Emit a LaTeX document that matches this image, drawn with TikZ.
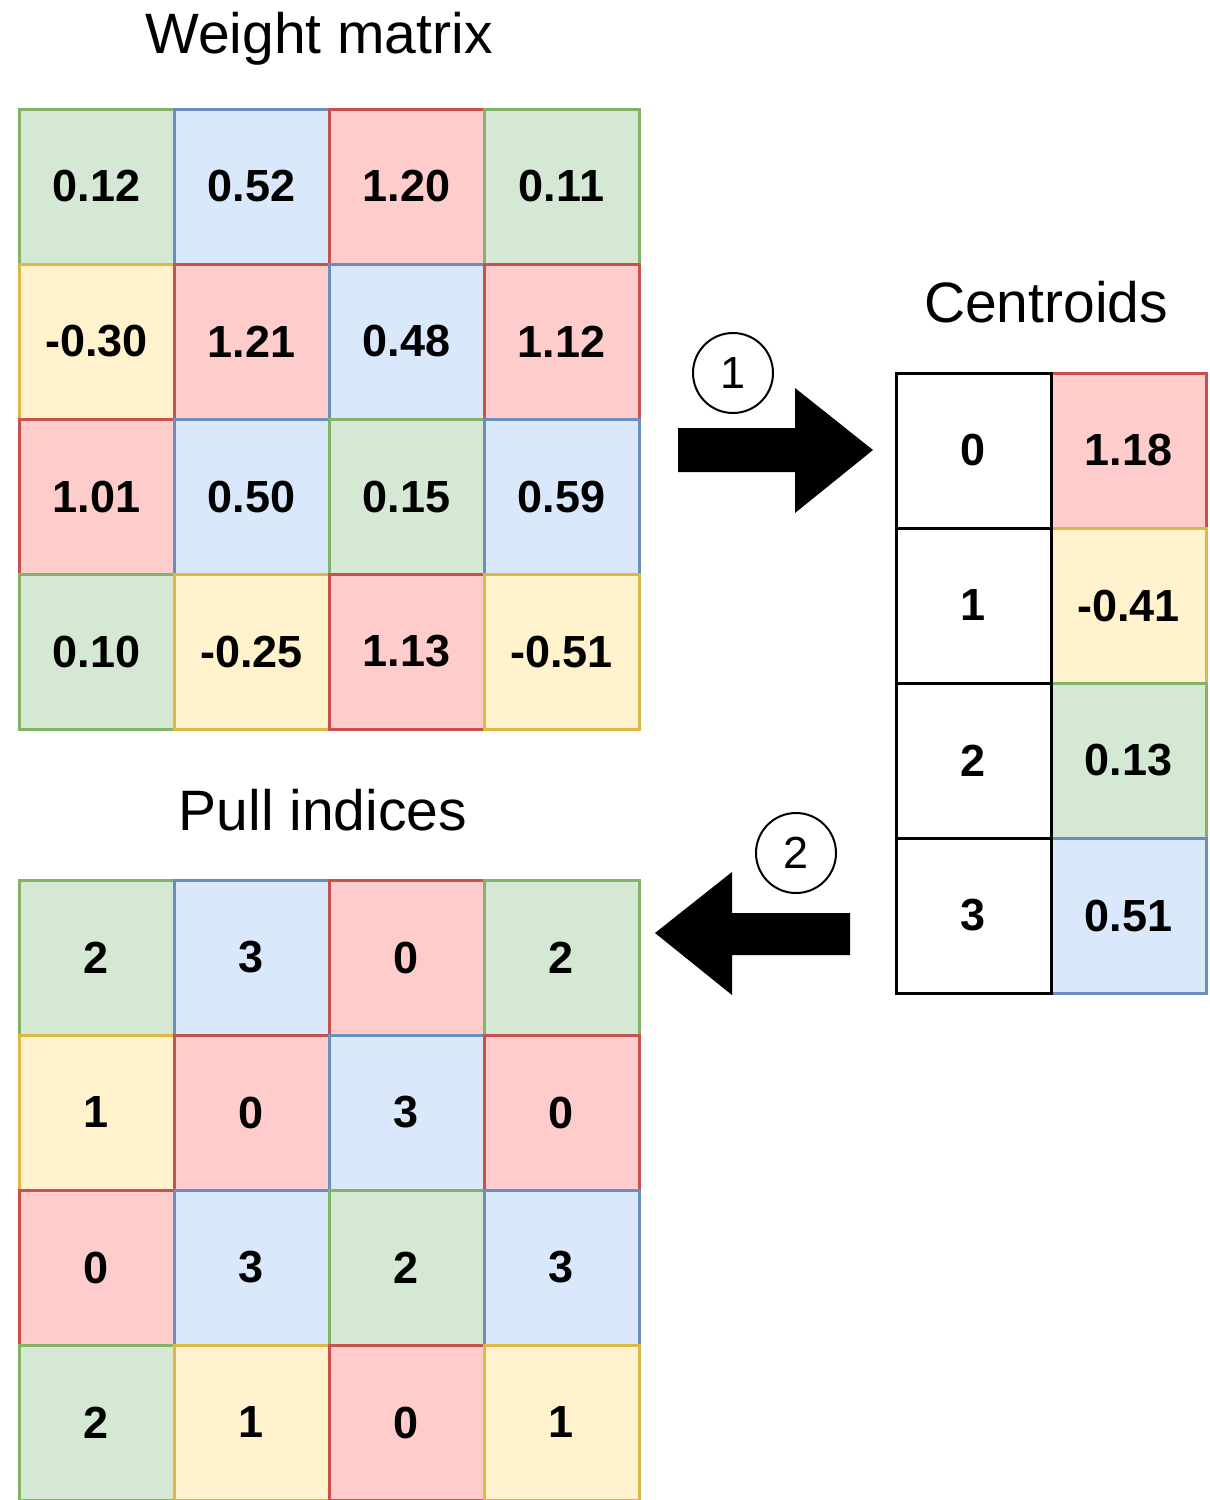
\documentclass[tikz,border=0pt]{standalone}
\usepackage{fontspec}
\setmainfont{Liberation Sans}
\definecolor{gF}{HTML}{D5E8D4}\definecolor{gD}{HTML}{82B366}
\definecolor{bF}{HTML}{DAE8FC}\definecolor{bD}{HTML}{6C8EBF}
\definecolor{rF}{HTML}{FFCCCC}\definecolor{rD}{HTML}{C8504E}
\definecolor{yF}{HTML}{FFF2CC}\definecolor{yD}{HTML}{DDB845}
\tikzset{
  cell/.style={draw, line width=3pt, minimum width=155pt, minimum height=155pt, inner sep=0pt,
    font=\fontsize{45}{50}\selectfont\bfseries},
  title/.style={anchor=base, font=\fontsize{57}{62}\selectfont},
  badge/.style={circle, draw, line width=2pt, minimum size=80pt, inner sep=0pt,
    font=\fontsize{45}{50}\selectfont},
  blockarrow/.style={fill=black, draw=none}
}
\begin{document}
\begin{tikzpicture}[x=1pt,y=-1pt]
\useasboundingbox (0,0) rectangle (1210,1500);
\fill[white] (0,0) rectangle (1210,1500);
% titles
\node[title] (t1) at (319,53) {Weight matrix};
\node[title] (t2) at (1046,322) {Centroids};
\node[title] (t3) at (323,830) {Pull indices};
% weight matrix
\foreach \i/\j/\c/\t in {0/0/g/0.12,0/1/b/0.52,0/2/r/1.20,0/3/g/0.11,
  1/0/y/-0.30,1/1/r/1.21,1/2/b/0.48,1/3/r/1.12,
  2/0/r/1.01,2/1/b/0.50,2/2/g/0.15,2/3/b/0.59,
  3/0/g/0.10,3/1/y/-0.25,3/2/r/1.13,3/3/y/-0.51}
  \node[cell, fill=\c F, draw=\c D] (w\i\j) at ({96.5+155*\j},{186.5+155*\i}) {\t};
% pull indices
\foreach \i/\j/\c/\t in {0/0/g/2,0/1/b/3,0/2/r/0,0/3/g/2,
  1/0/y/1,1/1/r/0,1/2/b/3,1/3/r/0,
  2/0/r/0,2/1/b/3,2/2/g/2,2/3/b/3,
  3/0/g/2,3/1/y/1,3/2/r/0,3/3/y/1}
  \node[cell, fill=\c F, draw=\c D] (p\i\j) at ({96.5+155*\j},{957.5+155*\i}) {\t};
% centroids
\foreach \k/\c/\t in {0/r/1.18,1/y/-0.41,2/g/0.13,3/b/0.51}{
  \node[cell, fill=\c F, draw=\c D] (cv\k) at (1128.5,{450.5+155*\k}) {\t};
}
\foreach \k in {0,1,2,3}{
  \node[cell, fill=white, draw=black] (ci\k) at (973.5,{450.5+155*\k}) {\k};
}
% arrows
\fill[blockarrow] (678,428) -- (795,428) -- (795,388) -- (873,450) -- (795,513) -- (795,472) -- (678,472) -- cycle;
\fill[blockarrow] (850,913) -- (732,913) -- (732,872) -- (655,933) -- (732,995) -- (732,955) -- (850,955) -- cycle;
\node[badge] (b1) at (733,373) {1};
\node[badge] (b2) at (796,853) {2};
\end{tikzpicture}
\end{document}
